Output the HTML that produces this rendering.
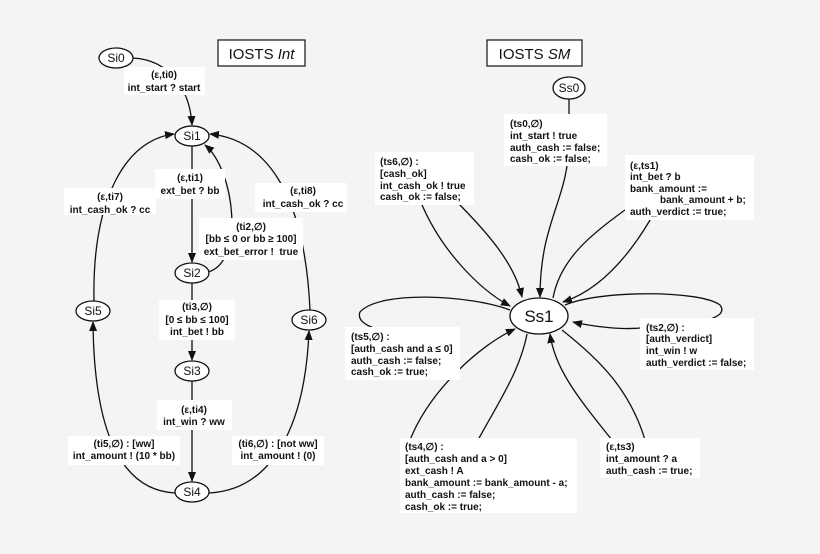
<!DOCTYPE html>
<html><head><meta charset="utf-8"><style>
html,body{margin:0;padding:0;background:#f4f4f4;}
svg{display:block;}
text{font-family:"Liberation Sans",sans-serif;}
.l{font-size:10px;font-weight:bold;fill:#111;}
.n{font-size:12px;fill:#111;}
.e{fill:none;stroke:#111;stroke-width:1.3;}
.b{fill:#fff;stroke:none;}
</style></head><body>
<svg width="820" height="554" viewBox="0 0 820 554" xmlns="http://www.w3.org/2000/svg">
<defs><marker id="a" markerWidth="10" markerHeight="8" refX="9" refY="4" orient="auto" markerUnits="userSpaceOnUse"><path d="M0,0 L10,4 L0,8 z" fill="#111"/></marker></defs>
<rect width="820" height="554" fill="#f4f4f4"/>

<!-- Int edges -->
<path class="e" d="M133,58 C170,60 190,90 192,125" marker-end="url(#a)"/>
<path class="e" d="M192,146 L192,262" marker-end="url(#a)"/>
<path class="e" d="M208,272 C245,262 235,170 205,145" marker-end="url(#a)"/>
<path class="e" d="M94,301 C92,200 125,140 174,134" marker-end="url(#a)"/>
<path class="e" d="M310,310 C305,200 270,140 210,134" marker-end="url(#a)"/>
<path class="e" d="M192,283 L192,360" marker-end="url(#a)"/>
<path class="e" d="M192,381 L192,481" marker-end="url(#a)"/>
<path class="e" d="M175,493 C120,490 94,430 93,322" marker-end="url(#a)"/>
<path class="e" d="M209,493 C270,490 305,430 309,331" marker-end="url(#a)"/>

<!-- SM edges -->
<path class="e" d="M569,99 L569,140 C569,200 540,220 540,297" marker-end="url(#a)"/>
<path class="e" d="M420,200 C440,250 480,290 510,306" marker-end="url(#a)"/>
<path class="e" d="M455,200 C490,235 515,265 522,297" marker-end="url(#a)"/>
<path class="e" d="M553,298 C560,260 590,235 625,210"/>
<path class="e" d="M653,215 C630,255 600,290 563,302" marker-end="url(#a)"/>
<path class="e" d="M510,310 C470,295 380,290 360,312 C355,325 380,338 460,334"/>
<path class="e" d="M565,305 C600,290 700,290 720,305 C730,318 700,325 640,328 C620,330 590,326 573,322" marker-end="url(#a)"/>
<path class="e" d="M410,440 C430,390 480,345 515,329" marker-end="url(#a)"/>
<path class="e" d="M478,440 C500,400 520,370 527,334"/>
<path class="e" d="M612,440 C580,400 555,370 550,334" marker-end="url(#a)"/>
<path class="e" d="M645,440 C630,390 600,360 562,330"/>

<!-- titles -->
<rect x="218" y="40" width="87" height="26" fill="#fff" stroke="#111" stroke-width="1.2"/>
<text x="261.5" y="59" font-size="15" text-anchor="middle" fill="#111">IOSTS <tspan font-style="italic">Int</tspan></text>
<rect x="487" y="40" width="95" height="26" fill="#fff" stroke="#111" stroke-width="1.2"/>
<text x="534.5" y="59" font-size="15" text-anchor="middle" fill="#111">IOSTS <tspan font-style="italic">SM</tspan></text>

<!-- nodes -->
<g fill="#fff" stroke="#111" stroke-width="1.3">
<ellipse cx="116" cy="58" rx="17" ry="10"/>
<ellipse cx="192" cy="136" rx="17" ry="10"/>
<ellipse cx="192" cy="273" rx="17" ry="10"/>
<ellipse cx="192" cy="371" rx="17" ry="10"/>
<ellipse cx="192" cy="492" rx="17" ry="10"/>
<ellipse cx="93" cy="311" rx="17" ry="10"/>
<ellipse cx="309" cy="320" rx="17" ry="10"/>
<ellipse cx="569" cy="88" rx="16" ry="11"/>
<ellipse cx="539" cy="316" rx="29" ry="18"/>
</g>
<g class="n" text-anchor="middle">
<text x="116" y="62">Si0</text><text x="192" y="140">Si1</text><text x="192" y="277">Si2</text>
<text x="192" y="375">Si3</text><text x="192" y="496">Si4</text><text x="93" y="315">Si5</text>
<text x="309" y="324">Si6</text><text x="569" y="92">Ss0</text>
<text x="539" y="322" font-size="17">Ss1</text>
</g>

<!-- Int labels -->
<rect class="b" x="124" y="67" width="81" height="28"/>
<rect class="b" x="155" y="169" width="70" height="30"/>
<rect class="b" x="64" y="188" width="92" height="27"/>
<rect class="b" x="255" y="183" width="92" height="29"/>
<rect class="b" x="199" y="218" width="104" height="42"/>
<rect class="b" x="159" y="300" width="76" height="40"/>
<rect class="b" x="157" y="400" width="75" height="30"/>
<rect class="b" x="68" y="436" width="112" height="29"/>
<rect class="b" x="232" y="436" width="92" height="29"/>
<g class="l" text-anchor="middle">
<text x="164" y="78">(ε,ti0)</text><text x="164" y="91">int_start ? start</text>
<text x="190" y="181">(ε,ti1)</text><text x="190" y="194">ext_bet ? bb</text>
<text x="110" y="200">(ε,ti7)</text><text x="110" y="213">int_cash_ok ? cc</text>
<text x="303" y="194">(ε,ti8)</text><text x="303" y="207">int_cash_ok ? cc</text>
<text x="251" y="230">(ti2,∅)</text><text x="251" y="242">[bb ≤ 0 or bb ≥ 100]</text><text x="251" y="255">ext_bet_error !&#160; true</text>
<text x="197" y="310">(ti3,∅)</text><text x="197" y="323">[0 ≤ bb ≤ 100]</text><text x="197" y="335">int_bet ! bb</text>
<text x="194" y="413">(ε,ti4)</text><text x="194" y="425">int_win ? ww</text>
<text x="124" y="447">(ti5,∅) : [ww]</text><text x="124" y="459">int_amount ! (10 * bb)</text>
<text x="278" y="447">(ti6,∅) : [not ww]</text><text x="278" y="459">int_amount ! (0)</text>
</g>

<!-- SM labels -->
<rect class="b" x="504" y="114" width="103" height="52"/>
<rect class="b" x="375" y="152" width="99" height="53"/>
<rect class="b" x="625" y="155" width="129" height="65"/>
<rect class="b" x="345" y="327" width="115" height="53"/>
<rect class="b" x="640" y="318" width="114" height="52"/>
<rect class="b" x="400" y="438" width="177" height="75"/>
<rect class="b" x="600" y="438" width="100" height="40"/>
<g class="l">
<text x="510" y="127">(ts0,∅)</text><text x="510" y="139">int_start ! true</text><text x="510" y="151">auth_cash := false;</text><text x="510" y="162">cash_ok := false;</text>
<text x="380" y="165">(ts6,∅) :</text><text x="380" y="177">[cash_ok]</text><text x="380" y="189">int_cash_ok ! true</text><text x="380" y="200">cash_ok := false;</text>
<text x="630" y="169">(ε,ts1)</text><text x="630" y="180">int_bet ? b</text><text x="630" y="192">bank_amount :=</text><text x="660" y="203">bank_amount + b;</text><text x="630" y="215">auth_verdict := true;</text>
<text x="351" y="340">(ts5,∅) :</text><text x="351" y="352">[auth_cash and a ≤ 0]</text><text x="351" y="364">auth_cash := false;</text><text x="351" y="375">cash_ok := true;</text>
<text x="646" y="331">(ts2,∅) :</text><text x="646" y="342">[auth_verdict]</text><text x="646" y="354">int_win ! w</text><text x="646" y="366">auth_verdict := false;</text>
<text x="405" y="450">(ts4,∅) :</text><text x="405" y="462">[auth_cash and a &gt; 0]</text><text x="405" y="474">ext_cash ! A</text><text x="405" y="486">bank_amount := bank_amount - a;</text><text x="405" y="498">auth_cash := false;</text><text x="405" y="510">cash_ok := true;</text>
<text x="606" y="450">(ε,ts3)</text><text x="606" y="462">int_amount ? a</text><text x="606" y="474">auth_cash := true;</text>
</g>
</svg>
</body></html>
